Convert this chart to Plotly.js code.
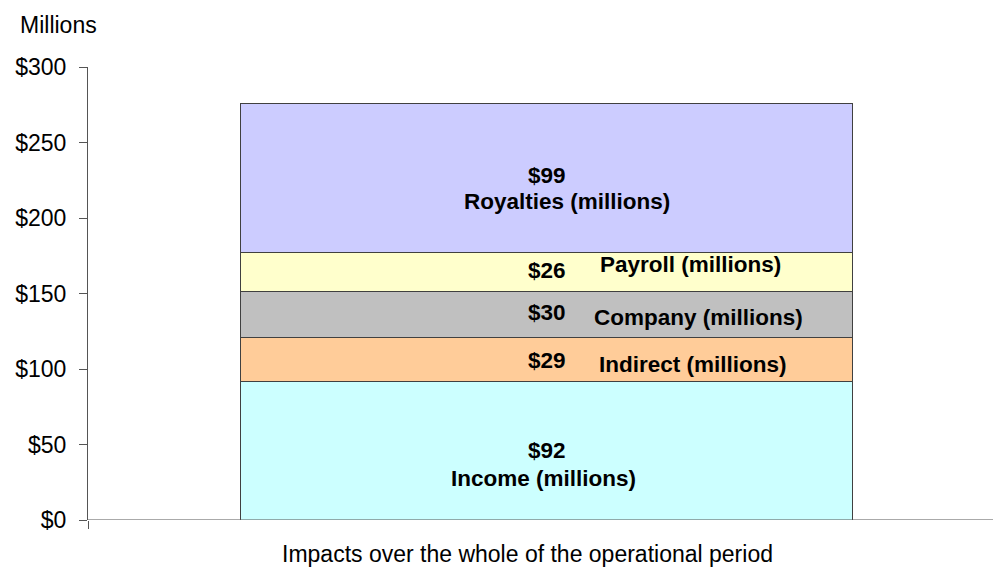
<!DOCTYPE html>
<html>
<head>
<meta charset="utf-8">
<script src="https://cdn.plot.ly/plotly-3.0.1.min.js"></script>
<style>html,body{margin:0;padding:0;background:#fff;}#chart{width:993px;height:568px;}</style>
</head>
<body>
<div id="chart"></div>
<script>
// Data
const category = ['Impacts over the whole of the operational period'];
const segments = ['Income (millions)', 'Indirect (millions)', 'Company (millions)', 'Payroll (millions)', 'Royalties (millions)'];
const values = [92, 29, 30, 26, 99];
const yTicks = [0, 50, 100, 150, 200, 250, 300];

// Styles
const colors = ['#CCFFFF', '#FFCC99', '#C0C0C0', '#FFFFCC', '#CCCCFF'];
// per-segment label offsets (px): [valueDx, valueDy, nameDx, nameDy]
const labelOffsets = [
  [1, 0, -3, -28],
  [1, -1, 147, -5],
  [1, 2, 152, -3],
  [1, 2, 144, 8],
  [1, 2, 21, -24]
];
const FONT = 'Liberation Sans, Arial, sans-serif';
const BOLD_SIZE = 22.5;
const REG_SIZE = 23;

const W = 993, H = 568, mL = 88, mR = 0, mT = 67, mB = 48;
const pw = W - mL - mR, ph = H - mT - mB;

const traces = segments.map((name, i) => ({
  type: 'bar',
  name: name,
  x: [0],
  y: [values[i]],
  width: [1],
  marker: {color: colors[i], line: {color: '#404040', width: 1}},
  hoverinfo: 'y+name',
  showlegend: false
}));

const annotations = [];
let cum = 0;
values.forEach((v, i) => {
  const mid = cum + v / 2;
  cum += v;
  const off = labelOffsets[i];
  annotations.push({
    x: 0, y: mid, xref: 'x', yref: 'y', xanchor: 'center', yanchor: 'middle',
    text: '<b>$' + v + '</b>', showarrow: false,
    xshift: off[0], yshift: off[1],
    font: {family: FONT, size: BOLD_SIZE, color: '#000'}
  });
  annotations.push({
    x: 0, y: mid, xref: 'x', yref: 'y', xanchor: 'center', yanchor: 'middle',
    text: '<b>' + segments[i] + '</b>', showarrow: false,
    xshift: off[2], yshift: off[3],
    font: {family: FONT, size: BOLD_SIZE, color: '#000'}
  });
});
annotations.push({
  xref: 'paper', yref: 'paper', x: (58 - mL) / pw, y: (H - mB - 25) / ph,
  xanchor: 'center', yanchor: 'middle', showarrow: false,
  text: 'Millions', font: {family: FONT, size: REG_SIZE, color: '#000'}
});
annotations.push({
  xref: 'paper', yref: 'paper', x: (527 - mL) / pw, y: (H - mB - 554) / ph,
  xanchor: 'center', yanchor: 'middle', showarrow: false,
  text: category[0], font: {family: FONT, size: REG_SIZE, color: '#000'}
});

const layout = {
  width: W, height: H,
  margin: {l: mL, r: mR, t: mT, b: mB, pad: 0},
  paper_bgcolor: '#fff', plot_bgcolor: '#fff',
  barmode: 'stack',
  bargap: 0,
  font: {family: FONT, size: REG_SIZE, color: '#000'},
  xaxis: {
    range: [-(546 - mL) / 612, (W - mR - 546) / 612],
    showgrid: false, zeroline: false,
    showline: false,
    tickvals: [-(546 - mL) / 612], ticktext: [''],
    ticks: 'outside', ticklen: 8, tickcolor: '#555', tickwidth: 1,
    fixedrange: true
  },
  yaxis: {
    range: [0, 300],
    tickvals: yTicks,
    ticktext: yTicks.map(t => '$' + t),
    ticks: 'outside', ticklen: 8, tickcolor: '#555', tickwidth: 1,
    ticklabelstandoff: 8,
    showline: true, linecolor: '#555', linewidth: 1,
    showgrid: false, zeroline: false,
    tickfont: {family: FONT, size: REG_SIZE, color: '#000'},
    fixedrange: true
  },
  shapes: [{
    type: 'line', xref: 'paper', yref: 'y', x0: 0, x1: 1, y0: 0, y1: 0,
    line: {color: '#555', width: 1}
  }],
  annotations: annotations
};

Plotly.newPlot('chart', traces, layout, {displayModeBar: false, staticPlot: true});
</script>
</body>
</html>
